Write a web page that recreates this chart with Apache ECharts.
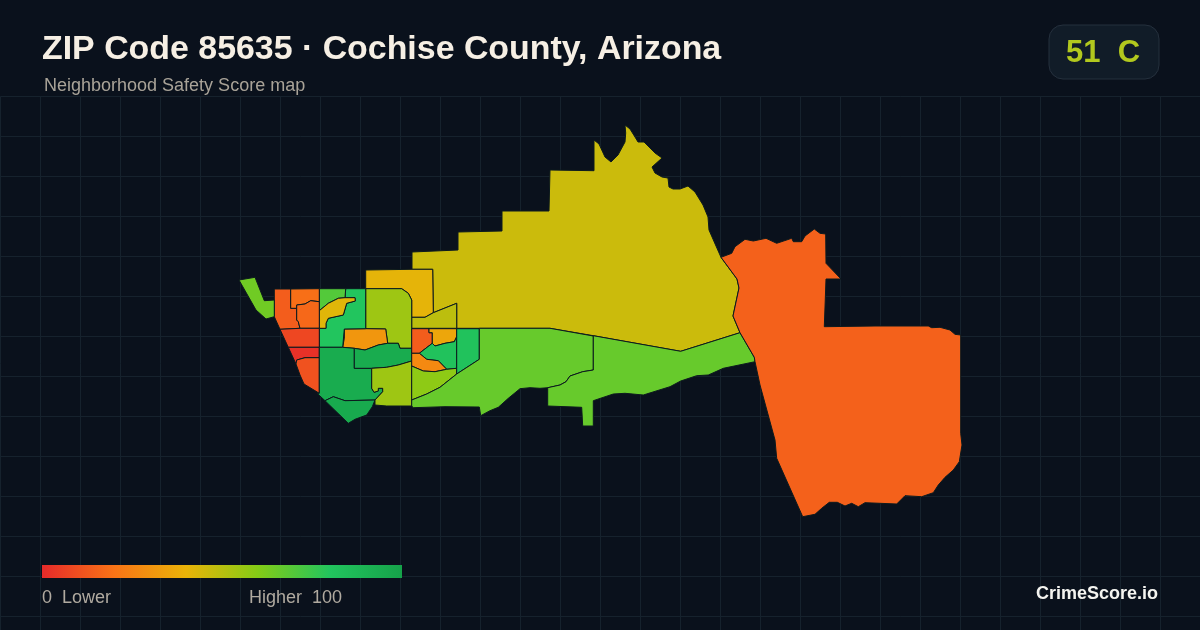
<!DOCTYPE html>
<html>
<head>
<meta charset="utf-8">
<style>html,body{margin:0;padding:0;background:#0a111c}#c{width:1200px;height:630px}</style>
<script src="https://cdn.jsdelivr.net/npm/echarts@6/dist/echarts.min.js"></script>
</head>
<body>
<div id="c"></div>
<script>
// Map geometry (map units) for each neighbourhood of the ZIP code
const northYellow = [[412,252],[458,250],[458,232],[502,231],[502,211],[549,211],[550,170],[594,170.7],[594,140],[599,144],[605,157],[611,162],[618,155],[625,142],[625.7,133],[625,125],[630,129],[635,137],[638,142],[644,142],[650,148],[655,153],[662,158],[652,167],[655,173],[662,177],[668,178],[669,187],[673,189],[680,189],[688,186],[695,192],[703,205],[708,217],[709,230],[716,246],[721,257.3],[737,279],[739,288],[733,316],[740,332.7],[680.7,351.3],[593.3,335.7],[550,328.3],[479.3,328.3],[456.7,328.3],[456.7,303.3],[433.3,312.7],[432.7,269.3],[412,269.3]];
const topGold = [[365.7,270],[412,269.3],[432.7,269.3],[433.3,312.7],[425,317.3],[411.7,317.3],[411.7,300],[408.3,293.3],[401.7,288.7],[365.7,288.7]];
const sliver = [[411.7,317.3],[425,317.3],[433.3,312.7],[456.7,303.3],[456.7,328.3],[411.7,328.3]];
const centralLime = [[365.7,288.7],[401.7,288.7],[408.3,293.3],[411.7,300],[411.7,348.3],[400,348.3],[398.3,343.3],[387.7,343.3],[385.7,329],[365.7,328.7]];
const centralOrange = [[344.3,329],[365.7,328.7],[385.7,329],[387.7,343.3],[378.3,345],[365,350],[354.3,348.3],[342.7,347.3],[344.3,338.3]];
const brightGreen = [[345.7,288.7],[365.7,288.7],[365.7,328.7],[344.3,329],[342.7,347.3],[319.3,347.3],[319.3,328.3],[326,328.3],[326,323.3],[328.3,318.3],[343.3,315],[346.7,303.3],[355.3,301],[355,297.7],[345,297.7]];
const upperGreen = [[319.3,288.7],[345.7,288.7],[345,297.7],[338.3,298.3],[328.3,303.3],[319.3,310.7]];
const inletGold = [[319.3,310.7],[328.3,303.3],[338.3,298.3],[345,297.7],[355,297.7],[355.3,301],[346.7,303.3],[343.3,315],[328.3,318.3],[326,323.3],[326,328.3],[319.3,328.3]];
const westOrange = [[274.3,289],[290.7,289],[290.7,308.3],[296.7,308.3],[296.7,320],[298.3,321.7],[300,328.3],[280,329.3],[274.3,316.7]];
const topOrange = [[290.7,289],[319.3,288.7],[319.3,301.7],[310.7,300.7],[305,304],[296.7,305],[296.7,308.3],[290.7,308.3]];
const innerOrange = [[296.7,305],[305,304],[310.7,300.7],[319.3,301.7],[319.3,328.3],[300,328.3],[298.3,321.7],[296.7,320]];
const redBand = [[280,329.3],[300,328.3],[319.3,328.3],[319.3,347.3],[288.3,347.3]];
const redCore = [[288.3,347.3],[319.3,347.3],[319.3,357.7],[305,357.7],[296.7,360],[296,364]];
const southRed = [[296.7,360],[305,357.7],[319.3,357.7],[319.3,393.3],[304,384],[300,375],[296,364]];
const bigGreen = [[319.3,347.3],[342.7,347.3],[354.3,348.3],[354.3,368.3],[371.7,368.3],[371.7,388.3],[374,392.3],[378.3,391],[378.3,388.3],[382.7,388.3],[382.7,391.7],[375,400],[345,400.7],[333.3,396.7],[325,400.7],[317.3,393.5],[319.3,393.3]];
const southTip = [[325,400.7],[333.3,396.7],[345,400.7],[375,400],[372.3,406.7],[366.7,415],[355,419.3],[348.3,423.3]];
const midGreen = [[354.3,348.3],[365,350],[378.3,345],[387.7,343.3],[398.3,343.3],[400,348.3],[411.7,348.3],[411.7,361],[398.3,365],[386.7,367.3],[371.7,368.3],[354.3,368.3]];
const southLime = [[371.7,368.3],[386.7,367.3],[398.3,365],[411.7,361],[411.7,406],[386.7,406],[375,405],[375,400],[382.7,391.7],[382.7,388.3],[378.3,388.3],[378.3,391],[374,392.3],[371.7,388.3]];
const eastRed = [[411.7,328.7],[429,328.7],[429,332.7],[432.3,332.7],[432.3,343.3],[419.3,353.3],[411.7,353.3]];
const eastAmber = [[429,328.7],[456.7,328.7],[456.7,336.7],[454.3,341.7],[445,343.3],[435,346],[432.3,343.3],[432.3,332.7],[429,332.7]];
const eastGreen = [[419.3,353.3],[432.3,343.3],[435,346],[445,343.3],[454.3,341.7],[456.7,336.7],[456.7,368.3],[446.7,369.3],[438.3,360.7],[426.7,359.3]];
const eastOrange = [[411.7,353.3],[419.3,353.3],[426.7,359.3],[438.3,360.7],[446.7,369.3],[435,371.7],[423.3,371],[411.7,366]];
const eastLime = [[411.7,366],[423.3,371],[435,371.7],[446.7,369.3],[456.7,368.3],[456.7,374],[440,387.3],[426.7,394],[411.7,400]];
const eastEmerald = [[456.7,328.7],[479.3,328.7],[479.3,359.3],[456.7,374]];
const southBelt = [[411.7,400],[426.7,394],[440,387.3],[456.7,374],[479.3,359.3],[479.3,328.3],[550,328.3],[593.3,336],[593.3,370],[582.7,371.7],[570,376],[566,381.7],[560,385],[548.3,387.7],[540,388.3],[530,387.7],[520,388.7],[508.3,398.3],[498.3,407.3],[490,410.7],[480.7,415.7],[479.3,407],[445,406.7],[413.3,407.7],[411.7,406]];
const eastBelt = [[593.3,335.7],[680.7,351.3],[740,332.7],[754.3,357.3],[755,361.7],[723.3,368.3],[708.3,375],[696.7,375.7],[680.7,381],[670,386.7],[643.3,395],[625,393.3],[613.3,394],[593.3,400.7],[593.3,426],[582.7,426],[581.7,407.3],[547.7,406],[547.7,387.7],[560,385],[566,381.7],[570,376],[582.7,371.7],[593.3,370]];
const nwStrip = [[239,280],[255,277.3],[264.3,300.7],[274.3,300],[274.3,316.7],[266,319],[256,310]];
const farEast = [[721,257.3],[731.7,253.3],[735,246.7],[745,239.3],[753.3,241],[766,238.3],[776.7,243.3],[791.7,238.3],[793.3,241.7],[801.7,241.7],[805,236],[814.3,229],[820,233.3],[825.7,234],[826,263.3],[841,279],[826,279],[824.3,326.7],[875,326],[928.3,326],[931.7,327.7],[940,327.3],[950,330],[955,334.3],[960.7,335],[960.7,433.3],[962,445],[959.3,461.7],[953.3,470],[945,477.3],[938.3,485],[933.3,492.7],[921.7,496.7],[905,495.7],[896.7,504],[880,503.3],[865,502.7],[858.3,506.7],[851.7,503.3],[845,506],[837.3,502.3],[829.3,502.3],[821.7,508.3],[815,514.3],[802.7,516.7],[776.7,458.3],[775,440],[760,385],[755,361.7],[754.3,357.3],[740,332.7],[733,316],[739,288],[737,279]];

// Zones and their safety scores, in matching order
const zoneNames = ['northYellow','topGold','sliver','centralLime','centralOrange','brightGreen','upperGreen','inletGold','westOrange','topOrange','innerOrange','redBand','redCore','southRed','bigGreen','southTip','midGreen','southLime','eastRed','eastAmber','eastGreen','eastOrange','eastLime','eastEmerald','southBelt','eastBelt','nwStrip','farEast'];
const zoneShapes = [northYellow,topGold,sliver,centralLime,centralOrange,brightGreen,upperGreen,inletGold,westOrange,topOrange,innerOrange,redBand,redCore,southRed,bigGreen,southTip,midGreen,southLime,eastRed,eastAmber,eastGreen,eastOrange,eastLime,eastEmerald,southBelt,eastBelt,nwStrip,farEast];
const zoneScores = [46,41,49,55,31,80,70,42,14,19,17,8,2,11,95,96,95,55,14,36,82,27,58,82,66,66,64,15];

const rampColors = ['#e62a2a','#f97316','#eab308','#84cc16','#22c55e','#16a34a'];
const titleText = 'ZIP Code 85635 · Cochise County, Arizona';
const subtitleText = 'Neighborhood Safety Score map';
const badgeText = '51  C';
const legendLow = '0  Lower';
const legendHigh = 'Higher  100';
const brandText = 'CrimeScore.io';

echarts.registerMap('zip85635', {
  type: 'FeatureCollection',
  features: zoneNames.map((name, i) => ({
    type: 'Feature',
    properties: { name },
    geometry: { type: 'Polygon', coordinates: [zoneShapes[i].concat([zoneShapes[i][0]])] }
  }))
});

const font = '"Liberation Sans", Arial, sans-serif';
const chart = echarts.init(document.getElementById('c'), null, { renderer: 'canvas' });
chart.setOption({
  animation: false,
  backgroundColor: '#0a111c',
  grid: { left: 0.5, top: 96.5, width: 1199.5, height: 533.5, show: false },
  xAxis: { type: 'value', min: 0, max: 1199.5, interval: 40, axisLine: { show: false }, axisTick: { show: false }, axisLabel: { show: false },
    splitLine: { show: true, lineStyle: { color: '#16222d', width: 1 } } },
  yAxis: { type: 'value', min: 0, max: 533.5, interval: 40, inverse: true, axisLine: { show: false }, axisTick: { show: false }, axisLabel: { show: false },
    splitLine: { show: true, lineStyle: { color: '#16222d', width: 1 } } },
  title: [
    { text: titleText, left: 42, top: 33, padding: 0, textStyle: { fontFamily: font, fontSize: 33.9, fontWeight: 'bold', color: '#f6efe4' } },
    { text: subtitleText, left: 44, top: 77, padding: 0, textStyle: { fontFamily: font, fontSize: 18, fontWeight: 'normal', color: '#a9a398' } },
    { text: legendLow, left: 42, top: 589, padding: 0, textStyle: { fontFamily: font, fontSize: 18, fontWeight: 'normal', color: '#b0aaa0' } },
    { text: legendHigh, left: 249, top: 589, padding: 0, textStyle: { fontFamily: font, fontSize: 18, fontWeight: 'normal', color: '#b0aaa0' } },
    { text: brandText, right: 42, top: 585, padding: 0, textStyle: { fontFamily: font, fontSize: 18, fontWeight: 'bold', color: '#f4f4f0' } }
  ],
  visualMap: {
    type: 'continuous', show: false, seriesIndex: 0, min: 0, max: 100,
    inRange: { color: rampColors }
  },
  graphic: [
    { type: 'rect', left: 1048.5, top: 24.5, z: 5, shape: { width: 110, height: 54, r: 14 }, style: { fill: '#111c28', stroke: '#25303d', lineWidth: 1 } },
    { type: 'text', left: 1066, top: 38, z: 6, style: { text: badgeText, font: 'bold 31px ' + font, fill: '#b2c81e' } },
    { type: 'rect', left: 42, top: 565, z: 5, shape: { width: 360, height: 13 },
      style: { fill: new echarts.graphic.LinearGradient(0, 0, 1, 0, rampColors.map((color, i) => ({ offset: i / (rampColors.length - 1), color }))) } }
  ],
  series: [{
    type: 'map', map: 'zip85635', silent: true, roam: false,
    left: 0, top: 0, width: 1200, height: 630, aspectScale: 1,
    projection: { project: p => p, unproject: p => p },
    boundingCoords: [[0, 0], [1200, 630]],
    label: { show: false },
    itemStyle: { borderColor: '#0c1a1e', borderWidth: 1 },
    emphasis: { disabled: true },
    select: { disabled: true },
    data: zoneNames.map((name, i) => ({ name, value: zoneScores[i] }))
  }]
});
</script>
</body>
</html>
